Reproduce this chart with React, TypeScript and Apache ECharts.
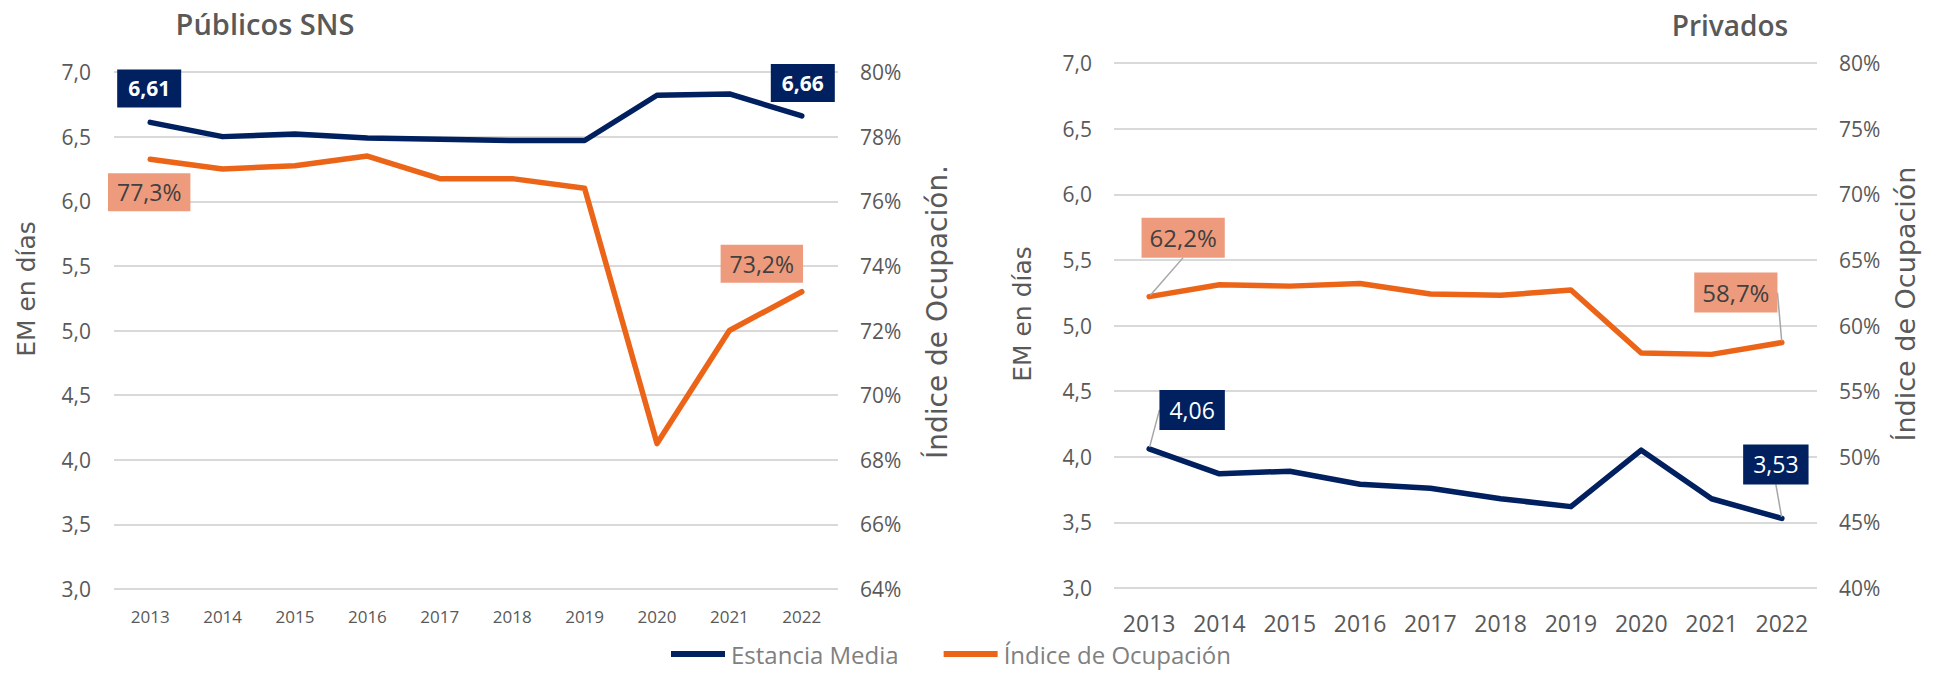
import React, { useEffect, useRef } from "react";
import * as echarts from "echarts";

const years = ["2013", "2014", "2015", "2016", "2017", "2018", "2019", "2020", "2021", "2022"];
const publicEM = [6.61, 6.5, 6.52, 6.49, 6.48, 6.47, 6.47, 6.82, 6.83, 6.66];
const publicOcc = [77.3, 77.0, 77.1, 77.4, 76.7, 76.7, 76.4, 68.5, 72.0, 73.2];
const privateEM = [4.06, 3.87, 3.89, 3.79, 3.76, 3.68, 3.62, 4.05, 3.68, 3.53];
const privateOcc = [62.2, 63.1, 63.0, 63.2, 62.4, 62.3, 62.7, 57.9, 57.8, 58.7];

const NAVY = "#002060";
const ORANGE = "#EB6417";
const SALMON = "#EE9B7D";
const GREY = "#595959";
const FONT = "Open Sans";
const AXFONT = "DejaVu Sans";

const fmtEM = (v: number) => v.toFixed(2).replace(".", ",");
const fmtOcc = (v: number) => v.toFixed(1).replace(".", ",") + "%";

function withEndLabels(values: number[], label: any) {
  return values.map((v, i) =>
    i === 0 || i === values.length - 1 ? { value: v, label: { show: true, ...label } } : v
  );
}

function layoutFor(first: [number, number], last: [number, number]) {
  return (p: any) => {
    if (p.dataIndex === 0) return { dx: first[0], dy: first[1] };
    return { dx: last[0], dy: last[1] };
  };
}

export default function App() {
  const ref = useRef<HTMLDivElement>(null);
  useEffect(() => {
    document.body.style.margin = "0";
    const chart = echarts.init(ref.current!, null, { renderer: "svg" });

    const navyLabel = (bold: boolean, size: number) => ({
      position: "inside",
      formatter: (p: any) => fmtEM(p.value),
      color: "#FFFFFF",
      fontFamily: FONT,
      fontWeight: bold ? 700 : 400,
      fontSize: size,
      lineHeight: 24,
      backgroundColor: NAVY,
      padding: bold ? [7, 11] : [8, 10],
    });
    const salmonLabel = (size: number, pad: number[]) => ({
      position: "inside",
      formatter: (p: any) => fmtOcc(p.value),
      color: "#404040",
      fontFamily: FONT,
      fontWeight: 400,
      fontSize: size,
      lineHeight: 24,
      backgroundColor: SALMON,
      padding: pad,
    });

    const lineBase = {
      type: "line",
      symbol: "circle",
      symbolSize: 3,
      showSymbol: true,
      label: { show: false },
    };

    const yLabel = { color: GREY, fontFamily: FONT, fontSize: 21 };
    const lw = 5.5;

    chart.setOption({
      animation: false,
      textStyle: { fontFamily: FONT },
      grid: [
        { left: 114, right: 1940 - 838, top: 72, bottom: 673 - 589 },
        { left: 1114, right: 1940 - 1817, top: 63, bottom: 673 - 588 },
      ],
      legend: {
        left: 671,
        top: 642,
        padding: 0,
        itemWidth: 54,
        itemHeight: 6,
        itemGap: 45,
        icon: "rect",
        data: ["Estancia Media", "Índice de Ocupación"],
        textStyle: { color: "#808080", fontFamily: FONT, fontSize: 24, lineHeight: 24, padding: [0, 0, 0, 1] },
      },
      xAxis: [
        {
          type: "category",
          gridIndex: 0,
          data: years,
          axisLine: { show: false },
          axisTick: { show: false },
          axisLabel: { color: GREY, fontFamily: FONT, fontSize: 17, margin: 19 },
        },
        {
          type: "category",
          gridIndex: 1,
          data: years,
          axisLine: { show: false },
          axisTick: { show: false },
          axisLabel: { color: GREY, fontFamily: FONT, fontSize: 23, margin: 23 },
        },
      ],
      yAxis: [
        {
          type: "value",
          gridIndex: 0,
          min: 3,
          max: 7,
          interval: 0.5,
          axisLabel: { ...yLabel, margin: 23, formatter: (v: number) => v.toFixed(1).replace(".", ",") },
          splitLine: { lineStyle: { color: "#D9D9D9", width: 2 } },
        },
        {
          type: "value",
          gridIndex: 0,
          position: "right",
          min: 64,
          max: 80,
          interval: 2,
          axisLabel: { ...yLabel, margin: 22, formatter: (v: number) => v + "%" },
          splitLine: { show: false },
        },
        {
          type: "value",
          gridIndex: 1,
          min: 3,
          max: 7,
          interval: 0.5,
          axisLabel: { ...yLabel, margin: 22, formatter: (v: number) => v.toFixed(1).replace(".", ",") },
          splitLine: { lineStyle: { color: "#D9D9D9", width: 2 } },
        },
        {
          type: "value",
          gridIndex: 1,
          position: "right",
          min: 40,
          max: 80,
          interval: 5,
          axisLabel: { ...yLabel, margin: 22, formatter: (v: number) => v + "%" },
          splitLine: { show: false },
        },
      ],
      graphic: [
        {
          type: "text",
          x: 265,
          y: 23,
          style: { text: "Públicos SNS", fill: GREY, font: `600 29px "${FONT}"`, textAlign: "center", textVerticalAlign: "middle" },
        },
        {
          type: "text",
          x: 1730,
          y: 25,
          style: { text: "Privados", fill: GREY, font: `600 28px "${FONT}"`, textAlign: "center", textVerticalAlign: "middle" },
        },
        {
          type: "text",
          x: 26,
          y: 289,
          rotation: Math.PI / 2,
          style: { text: "EM en días", fill: GREY, font: `25px "${AXFONT}"`, textAlign: "center", textVerticalAlign: "middle" },
        },
        {
          type: "text",
          x: 937,
          y: 312,
          rotation: Math.PI / 2,
          style: { text: "Índice de Ocupación.", fill: GREY, font: `28px "${AXFONT}"`, textAlign: "center", textVerticalAlign: "middle" },
        },
        {
          type: "text",
          x: 1022,
          y: 314,
          rotation: Math.PI / 2,
          style: { text: "EM en días", fill: GREY, font: `25px "${AXFONT}"`, textAlign: "center", textVerticalAlign: "middle" },
        },
        {
          type: "text",
          x: 1905,
          y: 304,
          rotation: Math.PI / 2,
          style: { text: "Índice de Ocupación", fill: GREY, font: `27px "${AXFONT}"`, textAlign: "center", textVerticalAlign: "middle" },
        },
      ],
      series: [
        {
          ...lineBase,
          name: "Estancia Media",
          xAxisIndex: 0,
          yAxisIndex: 0,
          data: withEndLabels(publicEM, navyLabel(true, 21)),
          itemStyle: { color: NAVY },
          lineStyle: { color: NAVY, width: lw, cap: "round", join: "round" },
          labelLayout: layoutFor([-1, -34], [1, -33]),
        },
        {
          ...lineBase,
          name: "Índice de Ocupación",
          xAxisIndex: 0,
          yAxisIndex: 1,
          data: withEndLabels(publicOcc, salmonLabel(23, [7, 9])),
          itemStyle: { color: ORANGE },
          lineStyle: { color: ORANGE, width: lw, cap: "round", join: "round" },
          labelLayout: layoutFor([-1, 33], [-40, -28]),
        },
        {
          ...lineBase,
          name: "Estancia Media",
          xAxisIndex: 1,
          yAxisIndex: 2,
          data: withEndLabels(privateEM, navyLabel(false, 23)),
          itemStyle: { color: NAVY },
          lineStyle: { color: NAVY, width: lw, cap: "round", join: "round" },
          labelLine: { show: true, lineStyle: { color: "#A6A6A6", width: 1.5 } },
          labelLayout: layoutFor([43, -39], [-6, -54]),
        },
        {
          ...lineBase,
          name: "Índice de Ocupación",
          xAxisIndex: 1,
          yAxisIndex: 3,
          data: withEndLabels(privateOcc, salmonLabel(24, [8, 8])),
          itemStyle: { color: ORANGE },
          lineStyle: { color: ORANGE, width: lw, cap: "round", join: "round" },
          labelLine: { show: true, lineStyle: { color: "#A6A6A6", width: 1.5 } },
          labelLayout: layoutFor([34, -59], [-46, -50]),
        },
      ],
    });
    return () => chart.dispose();
  }, []);
  return <div ref={ref} style={{ width: 1940, height: 673 }} />;
}
